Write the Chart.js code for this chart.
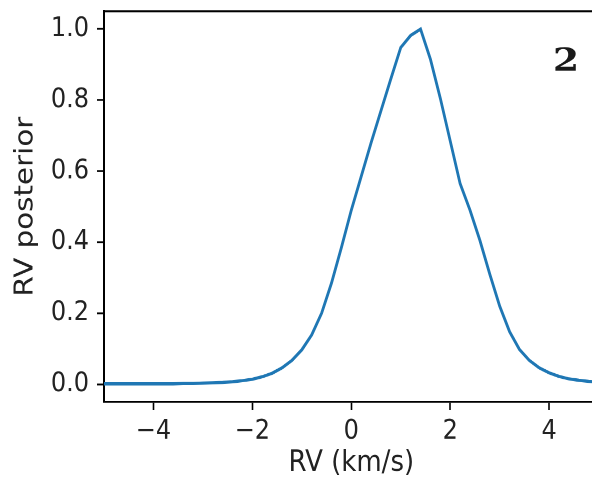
<!DOCTYPE html>
<html>
<head>
<meta charset="utf-8">
<script src="https://cdn.jsdelivr.net/npm/chart.js@4.4.1/dist/chart.umd.min.js"></script>
<style>
  html, body { margin: 0; padding: 0; overflow: hidden; background: #fff; width: 592px; height: 481px; }
  /* the reference is stretched vertically a little, so the whole chart is too */
  #wrap { width: 600px; height: 426px; transform: scaleY(1.1291); transform-origin: 0 0; }
</style>
</head>
<body>
<div id="wrap"><canvas id="chart"></canvas></div>
<script>
const rv = [
  -5.0, -4.8, -4.6, -4.4, -4.2, -4.0, -3.8, -3.6, -3.4, -3.2,
  -3.0, -2.8, -2.6, -2.4, -2.2, -2.0, -1.8, -1.6, -1.4, -1.2,
  -1.0, -0.8, -0.6, -0.4, -0.2, 0.0, 0.2, 0.4, 0.6, 0.8,
  1.0, 1.2, 1.4, 1.6, 1.8, 2.0, 2.2, 2.4, 2.6, 2.8,
  3.0, 3.2, 3.4, 3.6, 3.8, 4.0, 4.2, 4.4, 4.6, 4.8, 5.0
];
const posterior = [
  0.001, 0.001, 0.001, 0.001, 0.001, 0.001, 0.001, 0.001, 0.002, 0.002,
  0.003, 0.004, 0.005, 0.007, 0.010, 0.014, 0.021, 0.031, 0.046, 0.067,
  0.097, 0.139, 0.200, 0.285, 0.385, 0.490, 0.585, 0.680, 0.770, 0.860,
  0.948, 0.982, 1.000, 0.915, 0.805, 0.685, 0.565, 0.490, 0.405, 0.310,
  0.220, 0.148, 0.098, 0.067, 0.046, 0.032, 0.022, 0.015, 0.011, 0.008, 0.006
];
const xTicks = [-4, -2, 0, 2, 4];
const yTicks = [0.0, 0.2, 0.4, 0.6, 0.8, 1.0];
const panelLabel = "2";

const tickFont = { family: "DejaVu Sans", size: 24 };
const titleFont = { family: "DejaVu Sans", size: 26 };
const ink = "#222";

// top/right spines and the panel number
const extras = {
  id: "extras",
  afterDraw(chart) {
    const { ctx, chartArea } = chart;
    ctx.save();
    ctx.strokeStyle = "#000";
    ctx.lineWidth = 1.8;
    ctx.beginPath();
    ctx.moveTo(chartArea.left, chartArea.top);
    ctx.lineTo(chartArea.right, chartArea.top);
    ctx.lineTo(chartArea.right, chartArea.bottom);
    ctx.stroke();

    ctx.fillStyle = "#1a1a1a";
    ctx.font = "bold 28px 'DejaVu Serif'";
    ctx.textAlign = "center";
    ctx.textBaseline = "middle";
    ctx.translate(566, 55);
    ctx.scale(1.35, 1);
    ctx.fillText(panelLabel, 0, 0);
    ctx.restore();
  }
};

new Chart(document.getElementById("chart"), {
  type: "line",
  data: {
    datasets: [{
      data: rv.map((x, i) => ({ x, y: posterior[i] })),
      borderColor: "#1f77b4",
      borderWidth: 2.8,
      pointRadius: 0,
      tension: 0,
      fill: false
    }]
  },
  options: {
    responsive: true,
    maintainAspectRatio: false,
    devicePixelRatio: 2,
    animation: false,
    layout: { padding: { left: 0, right: 1, top: 10, bottom: 0 } },
    plugins: { legend: { display: false }, tooltip: { enabled: false } },
    scales: {
      x: {
        type: "linear",
        min: -5,
        max: 5,
        afterBuildTicks: s => { s.ticks = xTicks.map(v => ({ value: v })); },
        afterFit: s => { s.height = 70; s.paddingLeft = 0; s.paddingRight = 0; },
        ticks: {
          font: tickFont, color: ink, padding: 5, maxRotation: 0,
          callback: v => String(v).replace("-", "\u2212")
        },
        grid: { drawOnChartArea: false, drawTicks: true, tickLength: 7, tickColor: "#000", tickWidth: 1.6 },
        border: { color: "#000", width: 1.8 },
        title: { display: true, text: "RV (km/s)", font: titleFont, color: ink, padding: { top: 0, bottom: 0 } }
      },
      y: {
        min: -0.05,
        max: 1.05,
        afterBuildTicks: s => { s.ticks = yTicks.map(v => ({ value: v })); },
        afterFit: s => { s.width = 104; s.paddingTop = 0; s.paddingBottom = 0; },
        ticks: { font: tickFont, color: ink, padding: 8, callback: v => v.toFixed(1) },
        grid: { drawOnChartArea: false, drawTicks: true, tickLength: 7, tickColor: "#000", tickWidth: 1.6 },
        border: { color: "#000", width: 2 },
        title: { display: true, text: "RV posterior", font: titleFont, color: ink, padding: { top: 10, bottom: 0 } }
      }
    }
  },
  plugins: [extras]
});
</script>
</body>
</html>
